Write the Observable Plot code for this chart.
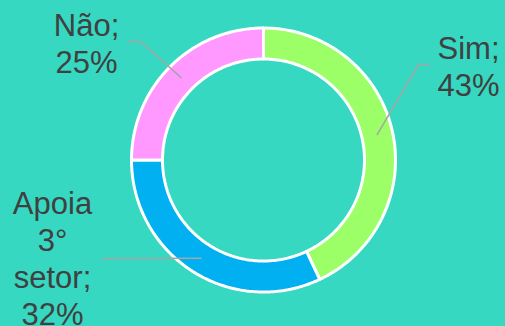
<!DOCTYPE html>
<html><head><meta charset="utf-8">
<script src="https://cdn.jsdelivr.net/npm/d3@7"></script>
<script src="https://cdn.jsdelivr.net/npm/@observablehq/plot@0.6"></script>
<style>html,body{margin:0;padding:0;background:#36D8C1;}</style>
</head><body><div id="chart"></div>
<script>
// ---- data ----
const categories = ["Sim", "Apoia 3° setor", "Não"];
const values = [43, 32, 25];
const labels = ["Sim;\n43%", "Apoia\n3°\nsetor;\n32%", "Não;\n25%"];
const colors = ["#9DFF68", "#00B0F0", "#FF99FF"];

// ---- layout (pixels) ----
const W = 505, H = 326, CX = 263, CY = 159.5, R = 132, RIN = 101;
const labelPos = [[468, 65], [52, 257], [86, 42]];
const elbowPos = [[[429, 64], [418, 64]], [[102, 258]], [[128, 41], [140, 41]]];
const toU = ([px, py]) => [(px - CX) / R, (CY - py) / R];

const total = d3.sum(values);
const rin = RIN / R, rmid = (RIN + R) / 2 / R;
const slicePts = [], leaderPts = [], labelData = [];
let cum = 0;
categories.forEach((c, i) => {
  const a0 = cum / total * 2 * Math.PI, a1 = (cum + values[i]) / total * 2 * Math.PI;
  cum += values[i];
  const n = 120, pts = [];
  for (let k = 0; k <= n; k++) { const a = a0 + (a1 - a0) * k / n; pts.push({c, x: Math.sin(a), y: Math.cos(a)}); }
  for (let k = n; k >= 0; k--) { const a = a0 + (a1 - a0) * k / n; pts.push({c, x: rin * Math.sin(a), y: rin * Math.cos(a)}); }
  pts.push({...pts[0]});
  slicePts.push(...pts);
  const am = (a0 + a1) / 2;
  elbowPos[i].forEach(p => { const [x, y] = toU(p); leaderPts.push({c, x, y}); });
  leaderPts.push({c, x: rmid * Math.sin(am), y: rmid * Math.cos(am)});
  const [lx, ly] = toU(labelPos[i]);
  labelData.push({c, x: lx, y: ly, text: labels[i]});
});

const chart = Plot.plot({
  width: W, height: H,
  marginTop: 0, marginRight: 0, marginBottom: 0, marginLeft: 0,
  x: {domain: [-CX / R, (W - CX) / R], range: [0, W], axis: null},
  y: {domain: [(CY - H) / R, CY / R], range: [H, 0], axis: null},
  color: {domain: categories, range: colors},
  style: {background: "#36D8C1"},
  marks: [
    Plot.line(slicePts, {x: "x", y: "y", z: "c", fill: "c", stroke: "white", strokeWidth: 3, strokeLinejoin: "miter"}),
    Plot.line(leaderPts, {x: "x", y: "y", z: "c", stroke: "#A6A6A6", strokeWidth: 1.5}),
    Plot.text(labelData, {x: "x", y: "y", text: "text", fill: "#404040", fontSize: 31, lineHeight: 1.2,
      lineAnchor: "middle", textAnchor: "middle", fontFamily: "Liberation Sans, Arial, sans-serif"})
  ]
});
document.getElementById("chart").appendChild(chart);
</script>
</body></html>
